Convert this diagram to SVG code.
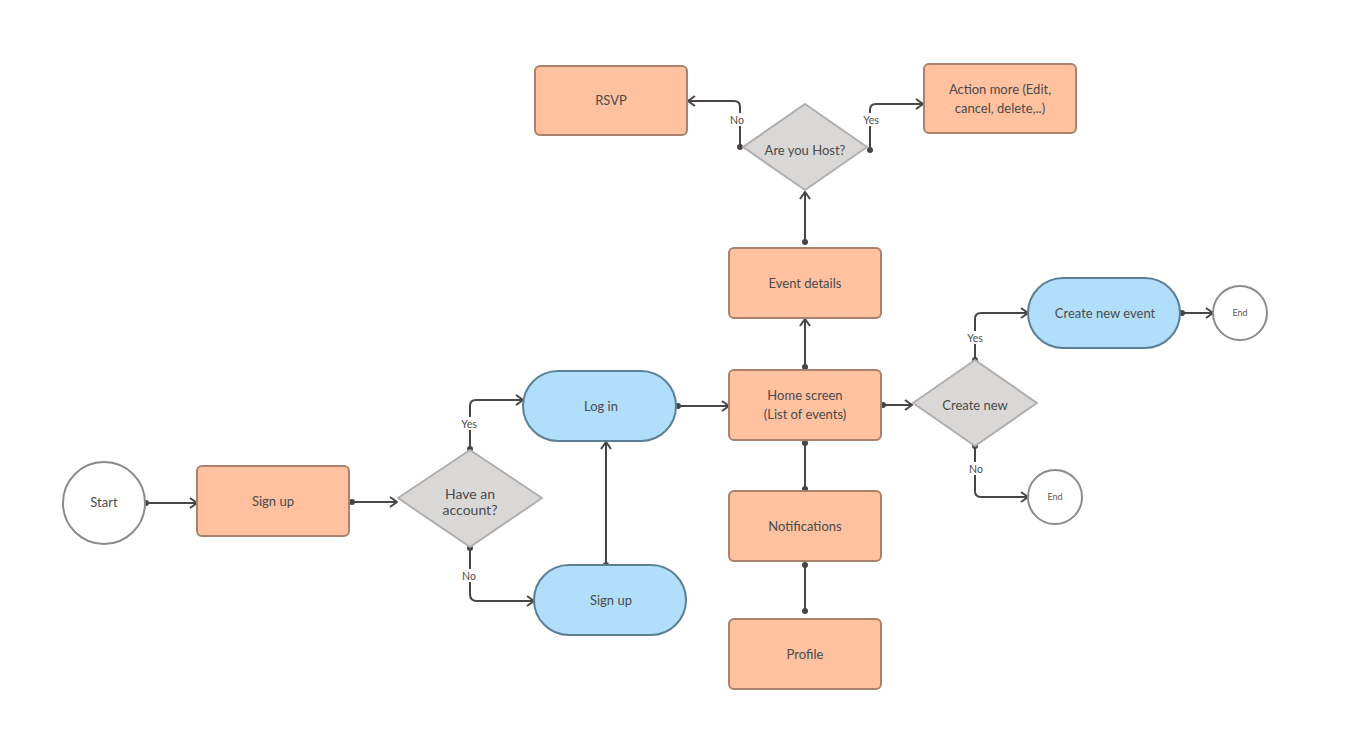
<svg xmlns="http://www.w3.org/2000/svg" width="1351" height="753" viewBox="0 0 1351 753">
<defs>
<style>
.proc{fill:#FFC19F;stroke:#A8826C;stroke-width:2}
.term{fill:#B1DFFB;stroke:#5C7F96;stroke-width:2}
.dec{fill:#D9D8D7;stroke:#B0AEAD;stroke-width:2}
.circ{fill:#FFFFFF;stroke:#8C8A8A;stroke-width:2}
.t{font-family:Lato,"Liberation Sans",sans-serif;font-size:13px;fill:#4A4A4A;text-anchor:middle}
.s{font-family:Lato,"Liberation Sans",sans-serif;font-size:10.5px;fill:#4A4A4A;text-anchor:middle}
.e{font-family:Lato,"Liberation Sans",sans-serif;font-size:9px;fill:#5A5A5A;text-anchor:middle}
.c{fill:none;stroke:#4A4545;stroke-width:2}
.d{fill:#4A4545}
</style>
<marker id="arr" viewBox="0 0 10 12" refX="9" refY="6" markerWidth="10" markerHeight="12" markerUnits="userSpaceOnUse" orient="auto">
<path d="M2,1 L9,6 L2,11" fill="none" stroke="#4A4545" stroke-width="2"/>
</marker>
</defs>
<rect width="1351" height="753" fill="#FFFFFF"/>

<g id="connectors">
<path class="c" d="M146,503 H197" marker-end="url(#arr)"/>
<path class="c" d="M352,502 H397" marker-end="url(#arr)"/>
<path class="c" d="M470,449 V406 Q470,400 476,400 H523" marker-end="url(#arr)"/>
<path class="c" d="M470,548 V594 Q470,601 477,601 H534" marker-end="url(#arr)"/>
<path class="c" d="M606,565 V442" marker-end="url(#arr)"/>
<path class="c" d="M678,406 H729" marker-end="url(#arr)"/>
<path class="c" d="M805,443 V489"/>
<path class="c" d="M805,565 V611"/>
<path class="c" d="M805,367 V319" marker-end="url(#arr)"/>
<path class="c" d="M805,242 V192" marker-end="url(#arr)"/>
<path class="c" d="M740,147 V107 Q740,101 734,101 H688" marker-end="url(#arr)"/>
<path class="c" d="M870,150 V110 Q870,104 876,104 H923" marker-end="url(#arr)"/>
<path class="c" d="M883,405 H912" marker-end="url(#arr)"/>
<path class="c" d="M975,360 V319 Q975,313 981,313 H1028" marker-end="url(#arr)"/>
<path class="c" d="M975,446 V491 Q975,497 981,497 H1028" marker-end="url(#arr)"/>
<path class="c" d="M1182,313 H1213" marker-end="url(#arr)"/>
<g class="d">
<circle cx="146" cy="503" r="3"/>
<circle cx="352" cy="502" r="3"/>
<circle cx="470" cy="449" r="3"/>
<circle cx="470" cy="548" r="3"/>
<circle cx="606" cy="565" r="3"/>
<circle cx="678" cy="406" r="3"/>
<circle cx="805" cy="443" r="3"/>
<circle cx="805" cy="489" r="3"/>
<circle cx="805" cy="565" r="3"/>
<circle cx="805" cy="611" r="3"/>
<circle cx="805" cy="367" r="3"/>
<circle cx="805" cy="242" r="3"/>
<circle cx="740" cy="147" r="3"/>
<circle cx="870" cy="150" r="3"/>
<circle cx="883" cy="405" r="3"/>
<circle cx="975" cy="360" r="3"/>
<circle cx="975" cy="446" r="3"/>
<circle cx="1182" cy="313" r="3"/>
</g>
<rect x="458" y="417" width="23" height="13" fill="#FFFFFF"/>
<text class="s" x="469" y="428">Yes</text>
<rect x="461" y="569" width="17" height="13" fill="#FFFFFF"/>
<text class="s" x="469" y="580">No</text>
<rect x="729" y="113" width="17" height="13" fill="#FFFFFF"/>
<text class="s" x="737" y="124">No</text>
<rect x="859" y="113" width="23" height="13" fill="#FFFFFF"/>
<text class="s" x="871" y="124">Yes</text>
<rect x="963" y="331" width="23" height="13" fill="#FFFFFF"/>
<text class="s" x="975" y="342">Yes</text>
<rect x="967" y="462" width="17" height="13" fill="#FFFFFF"/>
<text class="s" x="976" y="473">No</text>
</g>

<g id="start">
<circle class="circ" cx="104" cy="503" r="41"/>
<text class="t" x="104" y="507">Start</text>
</g>
<g id="signup1">
<rect class="proc" x="197" y="466" width="152" height="70" rx="5"/>
<text class="t" x="273" y="506">Sign up</text>
</g>
<g id="have-account">
<path class="dec" d="M470,450 L542,498 L470,547 L398,498 Z" stroke-linejoin="round"/>
<text class="t" x="470" y="499" style="font-size:14px">Have an</text>
<text class="t" x="470" y="515" style="font-size:14px">account?</text>
</g>
<g id="login">
<rect class="term" x="523" y="371" width="153" height="70" rx="35"/>
<text class="t" x="601" y="411">Log in</text>
</g>
<g id="signup2">
<rect class="term" x="534" y="565" width="152" height="70" rx="35"/>
<text class="t" x="611" y="605">Sign up</text>
</g>
<g id="home">
<rect class="proc" x="729" y="370" width="152" height="70" rx="5"/>
<text class="t" x="805" y="400">Home screen</text>
<text class="t" x="805" y="419">(List of events)</text>
</g>
<g id="notifications">
<rect class="proc" x="729" y="491" width="152" height="70" rx="5"/>
<text class="t" x="805" y="531">Notifications</text>
</g>
<g id="profile">
<rect class="proc" x="729" y="619" width="152" height="70" rx="5"/>
<text class="t" x="805" y="659">Profile</text>
</g>
<g id="event-details">
<rect class="proc" x="729" y="248" width="152" height="70" rx="5"/>
<text class="t" x="805" y="288">Event details</text>
</g>
<g id="host">
<path class="dec" d="M805,104 L867,147 L805,190 L743,147 Z" stroke-linejoin="round"/>
<text class="t" x="805" y="155">Are you Host?</text>
</g>
<g id="rsvp">
<rect class="proc" x="535" y="66" width="152" height="69" rx="5"/>
<text class="t" x="611" y="105">RSVP</text>
</g>
<g id="action-more">
<rect class="proc" x="924" y="64" width="152" height="69" rx="5"/>
<text class="t" x="1000" y="94">Action more (Edit,</text>
<text class="t" x="1000" y="113">cancel, delete,..)</text>
</g>
<g id="create-new">
<path class="dec" d="M975,360 L1037,403 L975,446 L913,403 Z" stroke-linejoin="round"/>
<text class="t" x="975" y="410">Create new</text>
</g>
<g id="create-event">
<rect class="term" x="1028" y="278" width="152" height="70" rx="35"/>
<text class="t" x="1105" y="318">Create new event</text>
</g>
<g id="end1">
<circle class="circ" cx="1240" cy="313" r="27"/>
<text class="e" x="1240" y="316">End</text>
</g>
<g id="end2">
<circle class="circ" cx="1055" cy="497" r="27"/>
<text class="e" x="1055" y="500">End</text>
</g>
</svg>
